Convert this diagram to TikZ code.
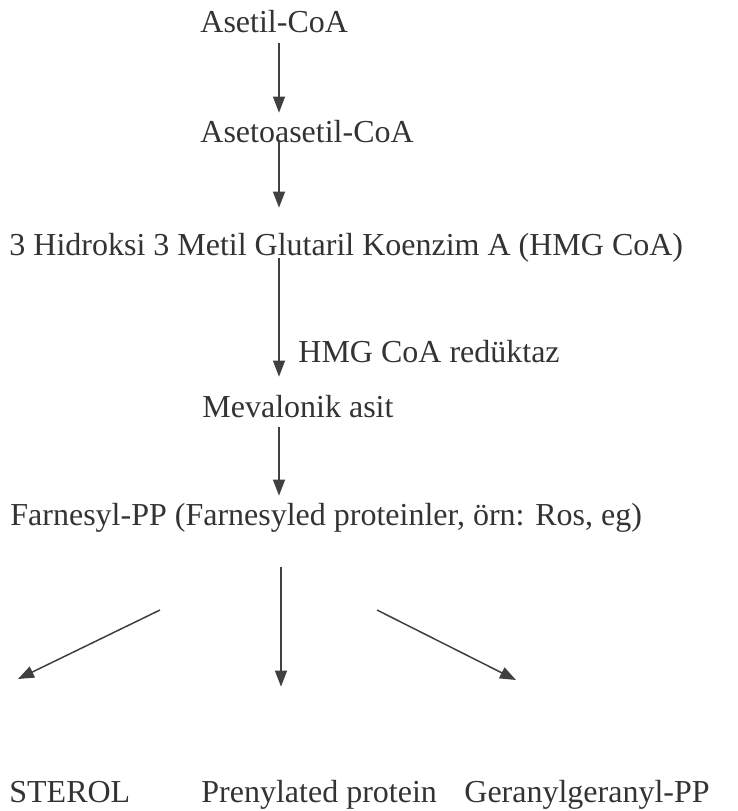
\documentclass[tikz,border=0pt]{standalone}
\usepackage{fontspec}
\setmainfont{Liberation Serif}
\usetikzlibrary{arrows.meta}

\begin{document}
\begin{tikzpicture}[x=0.5pt,y=-0.5pt,
  every node/.style={inner sep=0,anchor=base west,text height=12pt,text depth=3.5pt,
    font=\fontsize{16}{19}\selectfont,text=black!80},
  arr/.style={-{Triangle[length=8pt,width=6pt]},line width=0.75pt,draw=black!75}]
\useasboundingbox (0,0) rectangle (738,811);
\coordinate (ax) at (279,0);
\node (asetil) at (200,32) {Asetil-CoA};
\node (asetoasetil) at (200,142) {Asetoasetil-CoA};
\node (hmg) at (9,255) {3 Hidroksi 3 Metil Glutaril Koenzim A (HMG CoA)};
\node (enzim) at (298,362) {HMG CoA redüktaz};
\node (mevalonik) at (202,417) {Mevalonik asit};
\node (farnesyl) at (10,525) {Farnesyl-PP (Farnesyled proteinler, örn: Ros, eg)};
\node (sterol) at (9,802) {STEROL};
\node (prenyl) at (201,802) {Prenylated protein};
\node (geranyl) at (464,802) {Geranylgeranyl-PP};
\draw[arr] ([yshift=-2pt]asetil.south -| ax) -- ([yshift=2.5pt]asetoasetil.north -| ax);
\draw[arr] ([yshift=4.5pt]asetoasetil.south -| ax) -- ([yshift=11.5pt]hmg.north -| ax);
\draw[arr] ([yshift=2pt]hmg.south -| ax) -- ([yshift=8pt]mevalonik.north -| ax);
\draw[arr] ([yshift=-1.5pt]mevalonik.south -| ax) -- ([yshift=2.5pt]farnesyl.north -| ax);
% three branches
\draw[arr] ([xshift=1pt,yshift=-17.5pt]farnesyl.south -| ax) -- ([xshift=1pt,yshift=45.5pt]prenyl.north -| ax);
\coordinate (l0) at (160,610);
\coordinate (l1) at (18,679);
\coordinate (r0) at (377,610);
\coordinate (r1) at (516,680);
\draw[arr] (l0) -- (l1);
\draw[arr] (r0) -- (r1);
\end{tikzpicture}
\end{document}
